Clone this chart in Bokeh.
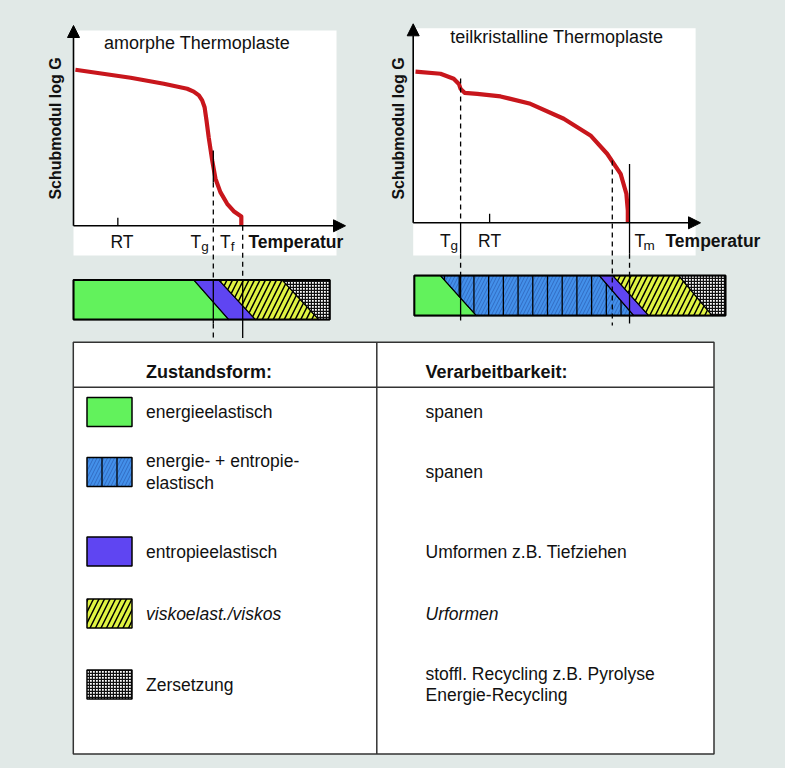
import numpy as np
from bokeh.plotting import figure
from bokeh.layouts import column, row
from bokeh.models import Range1d, Arrow, NormalHead
from bokeh.core.properties import value
from bokeh.embed import file_html
from bokeh.resources import INLINE

# ---------------- data (relative units: temperature 0..100, log G 0..100) ----------------
amo_title = "amorphe Thermoplaste"
amo_T = [0.7, 21.0, 33.2, 41.8, 44.2, 46.1, 47.3, 48.2, 48.9, 49.7, 51.0, 52.2, 54.0, 56.5, 58.9, 61.7, 61.7]
amo_G = [77.9, 73.9, 70.9, 68.4, 67.0, 65.1, 62.6, 59.2, 52.6, 44.2, 32.6, 23.5, 16.8, 11.0, 7.3, 4.6, 0.0]
amo_RT, amo_Tg, amo_Tf = 16.3, 51.4, 62.2
amo_bar_states = ["energie", "entropie", "visko", "zers"]
amo_bar_top = [0.0, 44.2, 53.4, 76.7, 94.2]
amo_bar_bottom = [0.0, 57.1, 66.9, 90.2, 94.2]

semi_title = "teilkristalline Thermoplaste"
semi_T = [0.8, 9.5, 14.1, 15.9, 16.5, 17.9, 22.3, 30.4, 40.8, 52.4, 61.7, 67.5, 72.2, 74.2, 74.7, 74.7]
semi_G = [76.0, 74.9, 72.4, 69.8, 67.3, 65.3, 64.8, 63.5, 59.8, 52.3, 43.9, 34.7, 24.6, 14.6, 6.2, 0.0]
semi_RT, semi_Tg, semi_Tk, semi_Tm = 26.6, 16.5, 69.3, 75.3
semi_bar_states = ["energie", "energie_entropie", "entropie", "visko", "zers"]
semi_bar_top = [0.4, 9.5, 64.8, 69.5, 92.4, 108.7]
semi_bar_bottom = [0.4, 22.0, 76.8, 82.0, 104.1, 108.7]

y_label = "Schubmodul log G"
x_label = "Temperatur"

table_headers = ["Zustandsform:", "Verarbeitbarkeit:"]
table_keys = ["energie", "energie_entropie", "entropie", "visko", "zers"]
table_states = [["energieelastisch"], ["energie- + entropie-", "elastisch"], ["entropieelastisch"],
                ["viskoelast./viskos"], ["Zersetzung"]]
table_processing = [["spanen"], ["spanen"], ["Umformen z.B. Tiefziehen"], ["Urformen"],
                    ["stoffl. Recycling z.B. Pyrolyse", "Energie-Recycling"]]
table_italic = [False, False, False, True, False]

# ---------------- style ----------------
BG = "#e1e9e7"
FONT = "Liberation Sans"
TXT = "#111111"
RED = "#c8161c"
FS = "17.5px"
STYLE = {
    "energie": dict(fill_color="#62f25c"),
    "energie_entropie": dict(fill_color="#4390ea", hatch_pattern="/", hatch_color="#2c62b8",
                             hatch_scale=7, hatch_weight=0.8),
    "entropie": dict(fill_color="#5f45f2"),
    "visko": dict(fill_color="#e0f442", hatch_pattern="/", hatch_color="black",
                  hatch_scale=11, hatch_weight=1.5),
    "zers": dict(fill_color="white", hatch_pattern="+", hatch_color="#111111",
                 hatch_scale=3, hatch_weight=1.4),
}
BLUE_LINE_STEP = 5.12
BLUE_LINE_START = 10.9


def txt(p, x, y, s, size=FS, style="normal", align="left", angle=0.0, x_off=0, y_off=0):
    p.text(x=[x], y=[y], text=[s], text_font=value(FONT), text_font_size=size,
           text_font_style=style, text_align=align, text_baseline="middle",
           angle=angle, text_color=TXT, x_offset=x_off, y_offset=y_off)


def style_fig(p):
    p.axis.visible = False
    p.grid.visible = False
    p.outline_line_color = None
    p.background_fill_color = BG
    p.border_fill_color = BG
    p.styles = {"background-color": BG}


def make_fig(fig_left, fig_top, W, H, origin, scale):
    ox, oy = origin
    sx, sy = scale
    p = figure(width=W, height=H,
               x_range=Range1d((fig_left - ox) / sx, (fig_left + W - ox) / sx),
               y_range=Range1d((oy - (fig_top + H)) / sy, (oy - fig_top) / sy),
               output_backend="svg", toolbar_location=None, min_border=0)
    style_fig(p)
    return p


def axes(p):
    for (x1, y1) in [(100, 0), (0, 100)]:
        p.add_layout(Arrow(x_start=0, y_start=0, x_end=x1, y_end=y1, line_width=1.6,
                           line_color="black",
                           end=NormalHead(size=12, fill_color="black", line_color="black")))


def vline(p, x, y0, y1, dash="solid"):
    p.segment(x0=[x], y0=[y0], x1=[x], y1=[y1], line_color="black", line_width=1.3,
              line_dash=dash)


def bar(p, top, bottom, states, y_top, y_bot):
    for i, st in enumerate(states):
        xs = [top[i], top[i + 1], bottom[i + 1], bottom[i]]
        ys = [y_top, y_top, y_bot, y_bot]
        p.patch(xs, ys, line_color="black", line_width=1.2, **STYLE[st])
    p.quad(left=top[0], right=top[-1], top=y_top, bottom=y_bot, fill_color=None,
           line_color="black", line_width=2)


TOP_H = 338
SPLIT = 380

# ---------------- left chart ----------------
pl = make_fig(0, 0, SPLIT, TOP_H, (73, 225.3), (2.72, 2.003))
pl.quad(left=0, right=96.7, bottom=-14.8, top=97.5, fill_color="white", line_color=None)
axes(pl)
pl.line(amo_T, amo_G, line_color=RED, line_width=4.2, line_join="round")
pl.segment(x0=[amo_RT], y0=[0], x1=[amo_RT], y1=[4], line_color="black", line_width=1.3)
L_YT, L_YB = -27.0, -46.8
bar(pl, amo_bar_top, amo_bar_bottom, amo_bar_states, L_YT, L_YB)
vline(pl, amo_Tg, 37.6, 21.6)
vline(pl, amo_Tg, 21.6, L_YT, "5 4")
vline(pl, amo_Tg, L_YT, L_YB - 2)
vline(pl, amo_Tg, L_YB - 2, -57, "5 4")
vline(pl, amo_Tf, 0, L_YT, "5 4")
vline(pl, amo_Tf, L_YT, -57)
txt(pl, 45.4, 91.5, amo_title, size="18px", align="center")
txt(pl, -6.6, 48.6, y_label, size="16px", style="bold", align="center", angle=np.pi / 2)
txt(pl, amo_RT + 1.5, -8, "RT", align="center")
txt(pl, amo_Tg, -8, "T", align="right", x_off=-12)
txt(pl, amo_Tg, -10.5, "g", size="13.5px", align="left", x_off=-12)
txt(pl, amo_Tf, -8, "T", align="right", x_off=-12)
txt(pl, amo_Tf, -10.5, "f", size="13.5px", align="left", x_off=-12)
txt(pl, 64.3, -8, x_label, style="bold")

# ---------------- right chart ----------------
pr = make_fig(SPLIT, 0, 785 - SPLIT, TOP_H, (412.7, 222.3), (2.873, 1.99))
pr.quad(left=0, right=98.3, bottom=-16.4, top=97.8, fill_color="white", line_color=None)
axes(pr)
pr.line(semi_T, semi_G, line_color=RED, line_width=4.2, line_join="round")
pr.segment(x0=[semi_RT], y0=[0], x1=[semi_RT], y1=[4.5], line_color="black", line_width=1.3)
R_YT, R_YB = -26.5, -46.6
bar(pr, semi_bar_top, semi_bar_bottom, semi_bar_states, R_YT, R_YB)
# vertical division lines inside the blue region
t1, t2 = semi_bar_top[1], semi_bar_top[2]
b1, b2 = semi_bar_bottom[1], semi_bar_bottom[2]
bx0, by0, bx1, by1 = [], [], [], []
for xk in np.arange(BLUE_LINE_START, b2, BLUE_LINE_STEP):
    upper = R_YT if xk <= t2 else R_YT + (xk - t2) / (b2 - t2) * (R_YB - R_YT)
    lower = R_YB if xk >= b1 else R_YT + (xk - t1) / (b1 - t1) * (R_YB - R_YT)
    if upper > lower:
        bx0.append(xk); by0.append(upper); bx1.append(xk); by1.append(lower)
pr.segment(x0=bx0, y0=by0, x1=bx1, y1=by1, line_color="black", line_width=1.3)
vline(pr, semi_Tg, 72.5, 0, "5 4")
vline(pr, semi_Tg, 0, -15.5)
vline(pr, semi_Tg, -15.5, R_YT, "5 4")
vline(pr, semi_Tg, R_YT, R_YB - 2.5)
vline(pr, semi_Tk, 31.3, -51.6, "5 4")
vline(pr, semi_Tm, 29.6, -15.5)
vline(pr, semi_Tm, -15.5, R_YT, "5 4")
vline(pr, semi_Tm, R_YT, R_YB - 4)
txt(pr, 50.0, 93.3, semi_title, size="18px", align="center")
txt(pr, -5.0, 47.4, y_label, size="16px", style="bold", align="center", angle=np.pi / 2)
txt(pr, semi_RT, -9, "RT", align="center")
txt(pr, semi_Tg, -9, "T", align="right", x_off=-10)
txt(pr, semi_Tg, -11.5, "g", size="13.5px", align="left", x_off=-10)
txt(pr, semi_Tm, -9, "T", align="left", x_off=5)
txt(pr, semi_Tm, -11.5, "m", size="13.5px", align="left", x_off=14)
txt(pr, 87.8, -9, x_label, style="bold")

# ---------------- table ----------------
TAB_H = 768 - TOP_H
pt = figure(width=785, height=TAB_H, x_range=Range1d(-8, 777), y_range=Range1d(TAB_H, 0),
            output_backend="svg", toolbar_location=None, min_border=0)
style_fig(pt)
T_L, T_R, T_T, T_B, T_DIV, T_HEAD = 64.8, 705.5, 3.7, 415.5, 368.3, 48.7
pt.quad(left=T_L, right=T_R, top=T_T, bottom=T_B, fill_color="white", line_color="#333333",
        line_width=1.5)
pt.segment(x0=[T_DIV, T_L], y0=[T_T, T_HEAD], x1=[T_DIV, T_R], y1=[T_B, T_HEAD],
           line_color="#333333", line_width=1.5)
COL1, COL2, SW_L, SW_W, SW_H, LH = 137.5, 417.0, 78.5, 45, 29, 21.5
row_y = [73.5, 133.5, 213.0, 275.0, 346.0]
txt(pt, COL1, 33.7, table_headers[0], size="18px", style="bold")
txt(pt, COL2, 33.7, table_headers[1], size="18px", style="bold")
for key, yc, st_lines, pr_lines, it in zip(table_keys, row_y, table_states, table_processing,
                                           table_italic):
    pt.rect(x=[SW_L + SW_W / 2], y=[yc], width=SW_W, height=SW_H, line_color="black",
            line_width=1.5, **STYLE[key])
    if key == "energie_entropie":
        xs = [SW_L + SW_W / 3, SW_L + 2 * SW_W / 3]
        pt.segment(x0=xs, y0=[yc - SW_H / 2] * 2, x1=xs, y1=[yc + SW_H / 2] * 2,
                   line_color="black", line_width=1.3)
    fs = "italic" if it else "normal"
    for lines, cx in ((st_lines, COL1), (pr_lines, COL2)):
        n = len(lines)
        for j, s in enumerate(lines):
            txt(pt, cx, yc + (j - (n - 1) / 2) * LH, s, style=fs)

top_row = row(pl, pr, spacing=0, styles={"background-color": BG})
layout = column(top_row, pt, spacing=0, styles={"background-color": BG})
open("out.html", "w").write(file_html(layout, INLINE))
